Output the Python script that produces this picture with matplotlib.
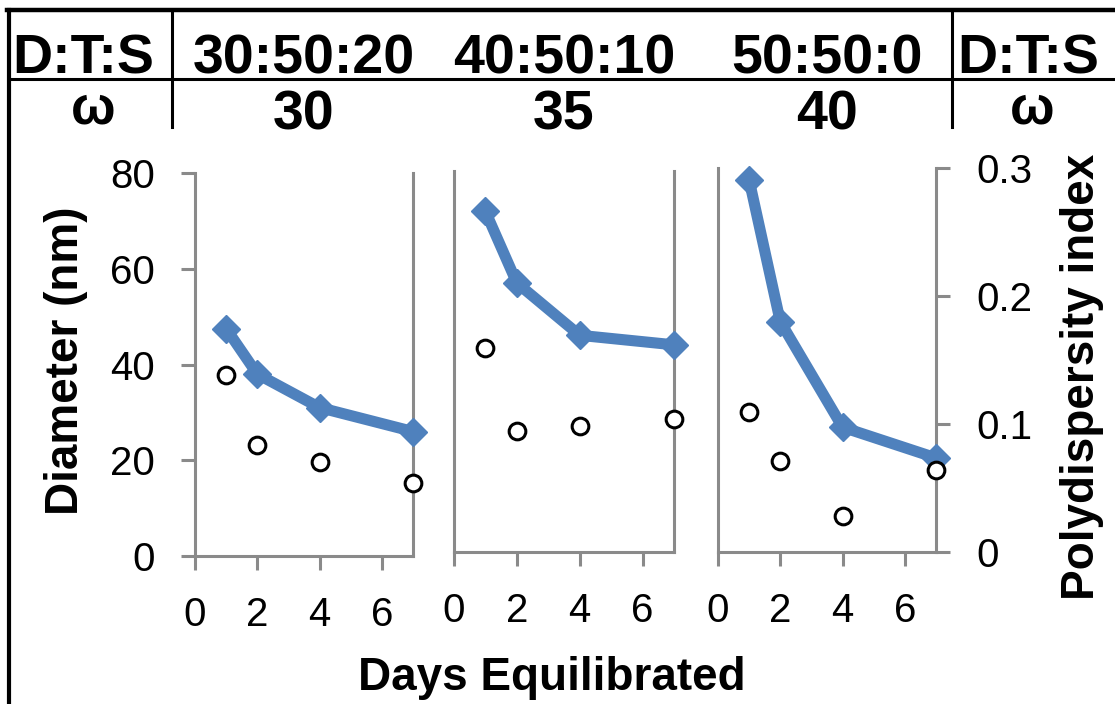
import matplotlib
matplotlib.use("Agg")
import matplotlib.pyplot as plt
from matplotlib.lines import Line2D

plt.rcParams['font.family'] = ['Liberation Sans', 'DejaVu Sans']

# --- data ---
days = [1, 2, 4, 7]
dts_labels = ["30:50:20", "40:50:10", "50:50:0"]
omega_labels = ["30", "35", "40"]
diameter = [
    [47.5, 38.0, 31.0, 26.0],
    [71.5, 56.5, 45.5, 43.5],
    [77.5, 48.0, 26.0, 19.6],
]
pdi = [
    [0.142, 0.087, 0.074, 0.057],
    [0.161, 0.095, 0.099, 0.105],
    [0.109, 0.071, 0.028, 0.064],
]

W, H = 1115, 704
GRAY = "#8a8a8a"
BLUE = "#4f81bd"

# panel boxes in pixels: x0, x1, y_top, y_bottom
boxes = [(195, 413, 173, 556), (454, 674, 171, 552), (718, 936, 168, 552)]

fig = plt.figure(figsize=(W / 100, H / 100), dpi=100)


def px(x0, x1, yt, yb):
    return [x0 / W, 1 - yb / H, (x1 - x0) / W, (yb - yt) / H]


for i, (x0, x1, yt, yb) in enumerate(boxes):
    ax = fig.add_axes(px(x0, x1, yt, yb))
    ax2 = ax.twinx()

    ax.plot(days, diameter[i], color=BLUE, lw=8, marker="D", ms=14,
            solid_joinstyle="miter", clip_on=False, zorder=3)
    ax.set_xlim(0, 7)
    ax.set_ylim(0, 80)
    ax.set_xticks([0, 2, 4, 6])
    ax.set_yticks([0, 20, 40, 60, 80])
    for s in ax.spines.values():
        s.set_color(GRAY)
        s.set_linewidth(2.2)
    ax.spines["top"].set_visible(False)
    ax.tick_params(axis="both", colors=GRAY, width=2.2, length=10,
                   labelsize=29, labelcolor="black", pad=19)
    ax.tick_params(axis="y", right=False, labelright=False)
    if i > 0:
        ax.tick_params(axis="y", left=False, labelleft=False)

    ax2.plot(days, pdi[i], ls="none", marker="o", ms=12, mfc="white",
             mec="black", mew=2.2, clip_on=False, zorder=4)
    ax2.set_ylim(0, 0.3)
    ax2.set_yticks([0, 0.1, 0.2, 0.3])
    ax2.set_yticklabels(["0", "0.1", "0.2", "0.3"])
    for s in ax2.spines.values():
        s.set_visible(False)
    ax2.tick_params(axis="y", left=False, labelleft=False)
    if i == 2:
        ax2.tick_params(axis="y", colors=GRAY, width=2.2, length=10,
                        labelsize=29, labelcolor="black", pad=19)
    else:
        ax2.tick_params(axis="y", right=False, labelright=False)

fig.text(66 / W, 1 - 361 / H, "Diameter (nm)", fontsize=33,
         fontweight="bold", rotation=90, ha="center", va="center")
fig.text(1082 / W, 1 - 377 / H, "Polydispersity index", fontsize=33,
         fontweight="bold", rotation=90, ha="center", va="center")
fig.text(552 / W, 1 - 690 / H, "Days Equilibrated", fontsize=33,
         fontweight="bold", ha="center", va="baseline")

# header table
hdr = dict(fontsize=40, fontweight="bold", va="baseline")
fig.text(12 / W, 1 - 74 / H, "D:T:S", ha="left", **hdr)
fig.text(1028 / W, 1 - 74 / H, "D:T:S", ha="center", **hdr)
for (x0, x1, yt, yb), lab, om in zip(boxes, dts_labels, omega_labels):
    cx = (x0 + x1) / 2
    fig.text(cx / W, 1 - 74 / H, lab, ha="center", **hdr)
    fig.text(cx / W, 1 - 129 / H, om, ha="center", **hdr)
fig.text(93 / W, 1 - 123 / H, "ω", ha="center", fontsize=38,
         fontweight="bold", va="baseline")
fig.text(1032 / W, 1 - 123 / H, "ω", ha="center", fontsize=38,
         fontweight="bold", va="baseline")

lines = [
    ([9, 9], [10, 704], 3),      # left frame
    ([7, 1115], [10, 10], 3.2),  # top frame
    ([12, 1115], [79, 79], 2.2),
    ([172, 172], [13, 127], 2.2),
    ([952, 952], [13, 127], 2.2),
]
for xs, ys, lw in lines:
    fig.add_artist(Line2D([x / W for x in xs], [1 - y / H for y in ys],
                          color="black", lw=lw, transform=fig.transFigure))

fig.savefig("out.png", dpi=100)
